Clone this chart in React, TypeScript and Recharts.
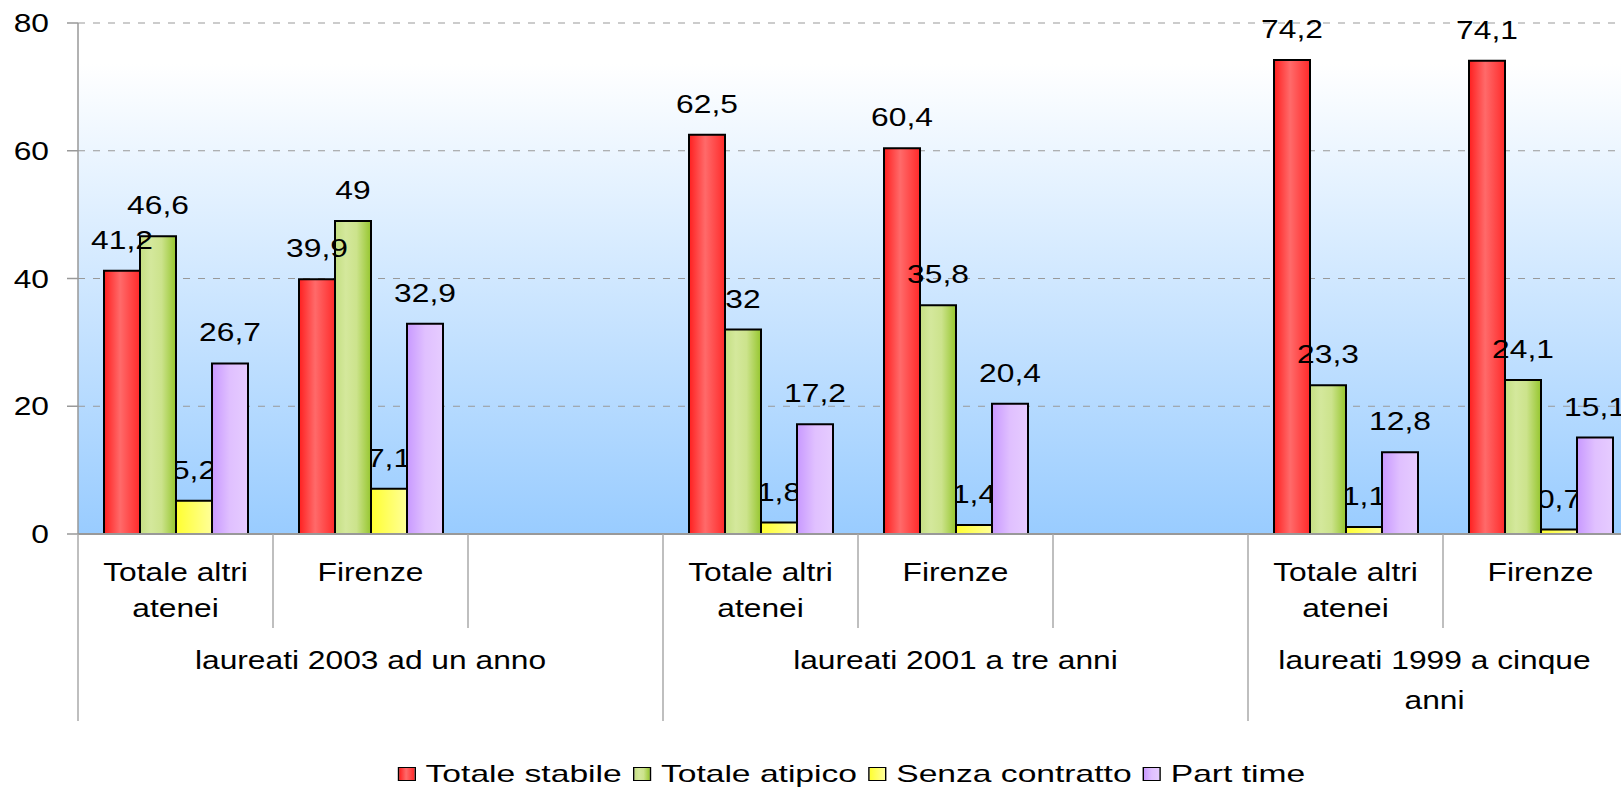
import React from "react";
import { Bar, BarChart, CartesianGrid, LabelList, Legend, XAxis, YAxis } from "recharts";

const FONT = "'Liberation Sans', Arial, sans-serif";
const STRETCH = 1.27;
const VIEW_W = 1621;
const VIEW_H = 788;
const AXIS_X = 78;
const SLOT = 195;
const PLOT_TOP = 23;
const PLOT_BOTTOM = 534;

const GROUPS = ["laureati 2003 ad un anno", "laureati 2001 a tre anni", "laureati 1999 a cinque anni"];
const ATENEI = ["Totale altri atenei", "Firenze", ""];
const Y_TICKS = [0, 20, 40, 60, 80];

const STABILE = [41.2, 39.9, null, 62.5, 60.4, null, 74.2, 74.1, null];
const ATIPICO = [46.6, 49, null, 32, 35.8, null, 23.3, 24.1, null];
const SENZA = [5.2, 7.1, null, 1.8, 1.4, null, 1.1, 0.7, null];
const PART = [26.7, 32.9, null, 17.2, 20.4, null, 12.8, 15.1, null];

const SERIE = [
  { key: "stabile", nome: "Totale stabile", valori: STABILE },
  { key: "atipico", nome: "Totale atipico", valori: ATIPICO },
  { key: "senza", nome: "Senza contratto", valori: SENZA },
  { key: "part", nome: "Part time", valori: PART },
];

// stile per serie: gradiente svg, gradiente css per la legenda, livello etichette
const STILE: Record<string, { grad: string; css: string; zLabel: number }> = {
  stabile: { grad: "gStab", css: "linear-gradient(to right,#ff1f1f,#ff6a6a 45%,#ff2a2a)", zLabel: 2000 },
  atipico: { grad: "gAtip", css: "linear-gradient(to right,#c4df82,#d4e89c 30%,#cce38c 60%,#96c62e)", zLabel: 2000 },
  senza: { grad: "gSenza", css: "linear-gradient(to right,#ffff30,#ffff99)", zLabel: 250 },
  part: { grad: "gPart", css: "linear-gradient(to right,#c899ff,#e0c0ff 50%,#e6ccff)", zLabel: 2000 },
};

const dati = GROUPS.flatMap((g, gi) =>
  ATENEI.map((a, ai) => {
    const i = gi * ATENEI.length + ai;
    const riga: Record<string, any> = { id: i, gruppo: g, ateneo: a };
    SERIE.forEach((s) => (riga[s.key] = s.valori[i]));
    return riga;
  })
);

const fmt = (v: number) => String(v).replace(".", ",");

function wrap(testo: string, maxChars: number) {
  const righe: string[] = [];
  let cur = "";
  testo.split(" ").forEach((w) => {
    if (!w) return;
    const prova = cur ? cur + " " + w : w;
    if (prova.length > maxChars && cur) {
      righe.push(cur);
      cur = w;
    } else cur = prova;
  });
  if (cur) righe.push(cur);
  return righe;
}

function Testo({ x, y, children, anchor = "middle", size = 25 }: any) {
  return (
    <g transform={`translate(${x},${y})`}>
      <text transform={`scale(${STRETCH},1)`} textAnchor={anchor} fontSize={size} fontFamily={FONT} fill="#000">
        {children}
      </text>
    </g>
  );
}

function YTick({ x, y, payload }: any) {
  return <Testo x={x} y={y + 9} anchor="end">{payload.value}</Testo>;
}

function XTick({ x, payload }: any) {
  const i = payload.index;
  const d = dati[i];
  const left = x - SLOT / 2;
  const inizioGruppo = i % ATENEI.length === 0;
  const righe = wrap(d.ateneo, 13);
  let gruppo = null;
  if (i % ATENEI.length === 1) {
    const gl = x - 1.5 * SLOT;
    const gr = Math.min(gl + 3 * SLOT, VIEW_W);
    const cx = (gl + gr) / 2;
    const gRighe = wrap(d.gruppo, Math.floor((gr - gl) / 15));
    gruppo = gRighe.map((r, k) => (
      <Testo key={k} x={cx} y={669 + k * 40}>{r}</Testo>
    ));
  }
  return (
    <g>
      <line x1={left} x2={left} y1={PLOT_BOTTOM} y2={inizioGruppo ? 721 : 628} stroke="#aaa" strokeWidth={1.5} />
      {righe.map((r, k) => (
        <Testo key={k} x={x} y={581 + k * 36}>{r}</Testo>
      ))}
      {gruppo}
    </g>
  );
}

function Etichetta({ x, y, width, value }: any) {
  if (value == null) return null;
  return <Testo x={x + width / 2} y={y - 22}>{fmt(value)}</Testo>;
}

function Legenda() {
  return (
    <div
      style={{
        display: "flex",
        justifyContent: "center",
        alignItems: "center",
        transform: "scaleX(1.4)",
        transformOrigin: "center",
        fontFamily: FONT,
        fontSize: 24,
        color: "#000",
        whiteSpace: "nowrap",
      }}
    >
      {SERIE.map((s) => (
        <span key={s.key} style={{ display: "flex", alignItems: "center", marginRight: 8 }}>
          <span
            style={{
              display: "inline-block",
              width: 11,
              height: 12,
              border: "1.5px solid #000",
              background: STILE[s.key].css,
              marginRight: 7,
            }}
          />
          {s.nome}
        </span>
      ))}
    </div>
  );
}

export default function App() {
  const larghezza = AXIS_X + SLOT * dati.length + 10;
  return (
    <div style={{ position: "fixed", left: 0, top: 0, width: VIEW_W, height: VIEW_H, overflow: "hidden", background: "#fff" }}>
      <BarChart
        width={larghezza}
        height={VIEW_H}
        data={dati}
        margin={{ top: PLOT_TOP, right: 10, left: 0, bottom: 0 }}
        barSize={36}
        barGap={0}
      >
        <defs>
          <linearGradient id="plotBg" x1="0" y1="0" x2="0" y2="1">
            <stop offset="0%" stopColor="#ffffff" />
            <stop offset="8%" stopColor="#ffffff" />
            <stop offset="100%" stopColor="#99ccff" />
          </linearGradient>
          <linearGradient id="gStab" x1="0" y1="0" x2="1" y2="0">
            <stop offset="0%" stopColor="#ff1f1f" />
            <stop offset="45%" stopColor="#ff6a6a" />
            <stop offset="100%" stopColor="#ff2a2a" />
          </linearGradient>
          <linearGradient id="gAtip" x1="0" y1="0" x2="1" y2="0">
            <stop offset="0%" stopColor="#c4df82" />
            <stop offset="30%" stopColor="#d4e89c" />
            <stop offset="60%" stopColor="#cce38c" />
            <stop offset="100%" stopColor="#96c62e" />
          </linearGradient>
          <linearGradient id="gSenza" x1="0" y1="0" x2="1" y2="0">
            <stop offset="0%" stopColor="#ffff30" />
            <stop offset="100%" stopColor="#ffff99" />
          </linearGradient>
          <linearGradient id="gPart" x1="0" y1="0" x2="1" y2="0">
            <stop offset="0%" stopColor="#c899ff" />
            <stop offset="50%" stopColor="#e0c0ff" />
            <stop offset="100%" stopColor="#e6ccff" />
          </linearGradient>
        </defs>
        <CartesianGrid vertical={false} stroke="#999" strokeDasharray="7 8" fill="url(#plotBg)" fillOpacity={1} />
        <XAxis
          dataKey="id"
          type="category"
          height={VIEW_H - PLOT_BOTTOM}
          interval={0}
          tickLine={false}
          axisLine={{ stroke: "#999", strokeWidth: 2 }}
          tick={<XTick />}
        />
        <YAxis
          width={AXIS_X}
          domain={[0, 80]}
          ticks={Y_TICKS}
          tickSize={11}
          tickMargin={18}
          tickLine={{ stroke: "#999", strokeWidth: 1.5 }}
          axisLine={{ stroke: "#999", strokeWidth: 1.5 }}
          tick={<YTick />}
        />
        <Legend
          verticalAlign="middle"
          align="center"
          layout="horizontal"
          content={<Legenda />}
          wrapperStyle={{ top: 760, left: 0, width: 1714, bottom: "auto" }}
        />
        {SERIE.map((s) => (
          <Bar
            key={s.key}
            dataKey={s.key}
            name={s.nome}
            fill={`url(#${STILE[s.key].grad})`}
            stroke="#000"
            strokeWidth={2}
            isAnimationActive={false}
            zIndex={300}
          >
            <LabelList dataKey={s.key} content={<Etichetta />} zIndex={STILE[s.key].zLabel} />
          </Bar>
        ))}
      </BarChart>
    </div>
  );
}
